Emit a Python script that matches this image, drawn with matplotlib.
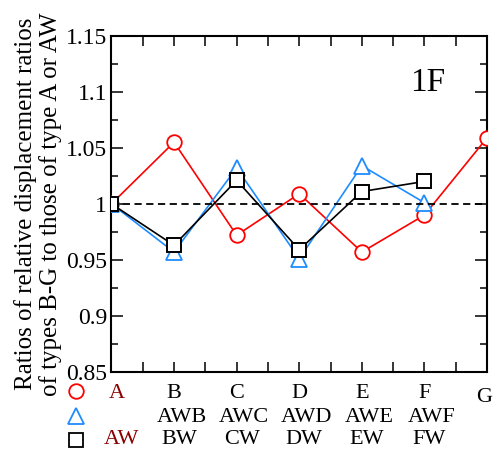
import matplotlib
matplotlib.use("Agg")
import matplotlib.pyplot as plt
from matplotlib.ticker import MultipleLocator, FuncFormatter

plt.rcParams["font.family"] = ["Liberation Serif", "DejaVu Serif"]
plt.rcParams["mathtext.fontset"] = "stix"

# Data (x = category index A..G)
types = ["A", "B", "C", "D", "E", "F", "G"]
x_idx = list(range(len(types)))

ratio_circle = [1.000, 1.055, 0.972, 1.009, 0.957, 0.990, 1.059]       # A..G
ratio_triangle = [1.000, 0.957, 1.032, 0.951, 1.034, 1.001]            # A..F
ratio_square = [1.000, 0.963, 1.021, 0.959, 1.011, 1.020]              # A..F

row1_labels = ["A", "B", "C", "D", "E", "F", "G"]
row2_labels = ["", "AWB", "AWC", "AWD", "AWE", "AWF"]
row3_labels = ["AW", "BW", "CW", "DW", "EW", "FW"]

RED = "#ff0000"
BLUE = "#1e8cff"
DARKRED = "#8b0000"

fig = plt.figure(figsize=(4.93, 4.53), dpi=100)
ax = fig.add_axes([0.226, 0.179, 0.762, 0.742])

ax.plot(x_idx, ratio_circle, color=RED, lw=1.2, marker="o", ms=10.5,
        mfc="white", mec=RED, mew=1.3, zorder=3)
ax.plot(x_idx[:6], ratio_triangle, color=BLUE, lw=1.2, marker="^", ms=12,
        mfc="white", mec=BLUE, mew=1.3, zorder=4)
ax.axhline(1.0, color="black", lw=1.3, ls=(0, (4, 2.5)), zorder=4.5)
ax.plot(x_idx[:6], ratio_square, color="black", lw=1.2, marker="s", ms=10.5,
        mfc="white", mec="black", mew=1.4, zorder=5)

ax.set_xlim(0, 6)
ax.set_ylim(0.85, 1.15)

ax.xaxis.set_major_locator(MultipleLocator(0.5))
ax.xaxis.set_major_formatter(FuncFormatter(lambda v, p: ""))
ax.yaxis.set_major_locator(MultipleLocator(0.05))
ax.yaxis.set_minor_locator(MultipleLocator(0.025))
ax.yaxis.set_major_formatter(FuncFormatter(lambda v, p: f"{v:g}"))

ax.tick_params(axis="both", which="both", direction="in", top=True, right=True,
               width=1.1)
ax.tick_params(axis="x", which="major", length=7)
ax.tick_params(axis="y", which="major", length=8.5, labelsize=17, pad=3)
ax.tick_params(axis="y", which="minor", length=5)
for s in ax.spines.values():
    s.set_linewidth(1.5)

ax.set_ylabel("Ratios of relative displacement ratios\nof types B-G to those of type A or AW",
              fontsize=18, labelpad=3, linespacing=1.12)

ax.text(5.056, 1.1007, "1F", fontsize=24, ha="center", va="baseline")

# category labels below the axis
tr = ax.get_xaxis_transform()
for i, lab in enumerate(row1_labels):
    yy = -0.077 if lab == "G" else -0.064
    xx = {0: 0.08, 6: 5.96}.get(i, i)
    ax.text(xx, yy, lab, transform=tr, ha="center", va="center",
            fontsize=16, color=DARKRED if lab == "A" else "black")
for i, lab in enumerate(row2_labels):
    ax.text(i + 0.12, -0.136, lab, transform=tr, ha="center", va="center", fontsize=16)
for i, lab in enumerate(row3_labels):
    ax.text(i + 0.16 if i == 0 else i + 0.08, -0.2, lab, transform=tr,
            ha="center", va="center", fontsize=16,
            color=DARKRED if lab == "AW" else "black")

# marker key on the left
key = [("o", RED, -0.057, 10.5), ("^", BLUE, -0.131, 12), ("s", "black", -0.202, 10.5)]
for m, c, yy, sz in key:
    ax.plot([-0.095], [yy], transform=ax.transAxes, marker=m, ms=sz, mfc="white",
            mec=c, mew=1.3, ls="none", clip_on=False)

fig.savefig("out.png", dpi=100)
